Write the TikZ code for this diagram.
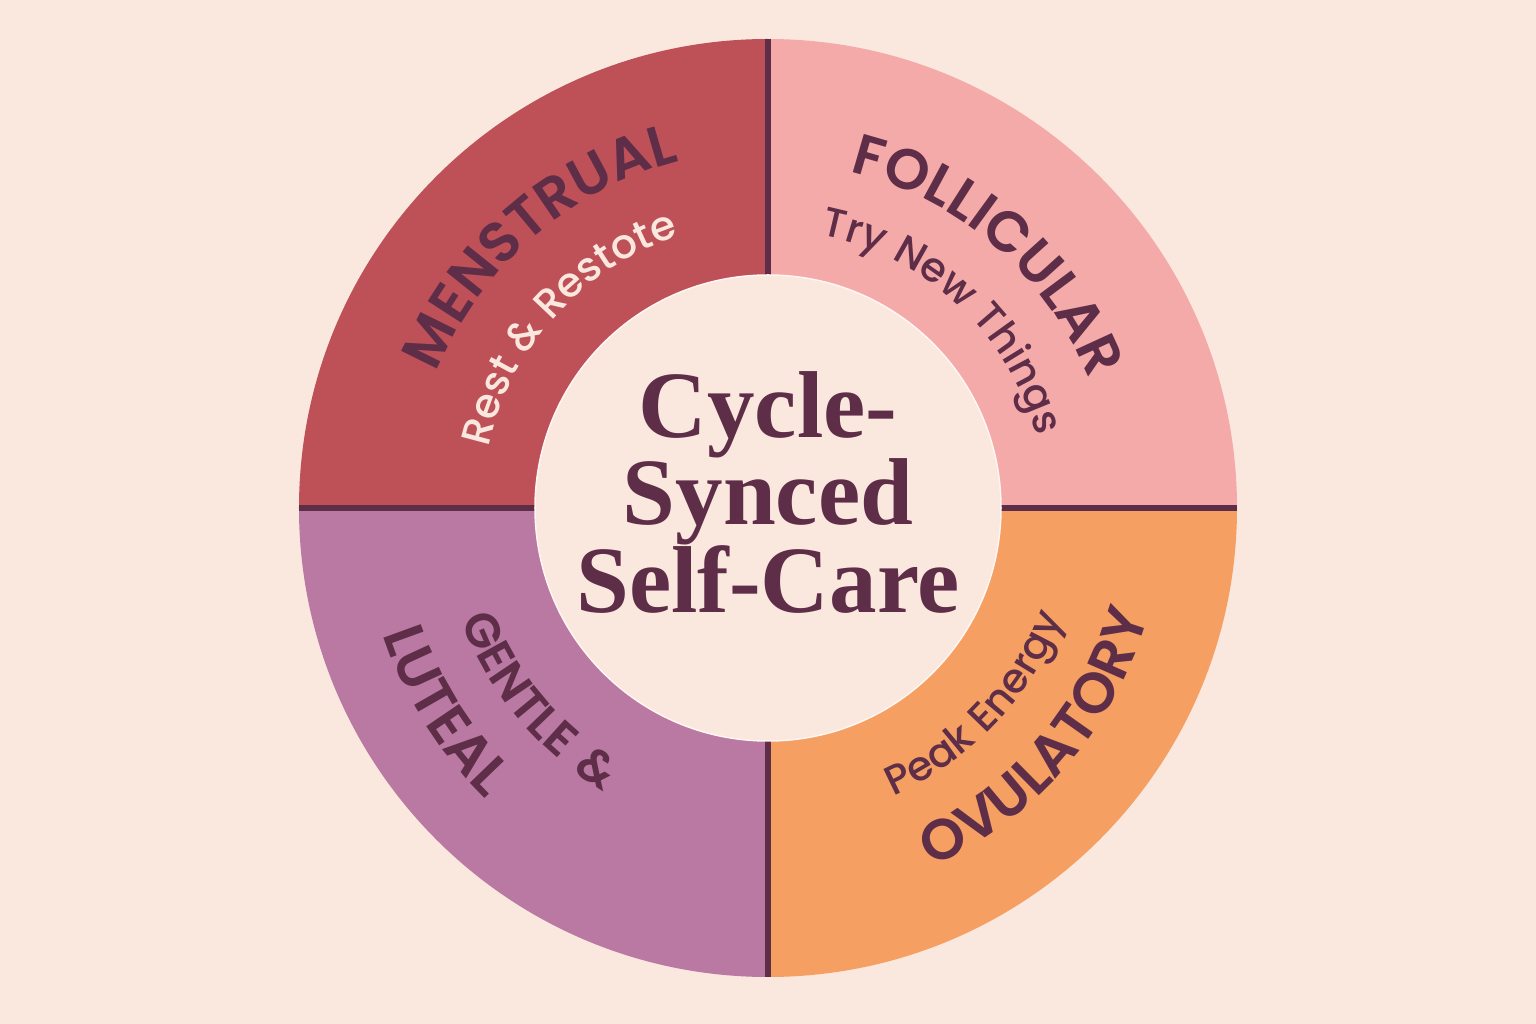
\documentclass[tikz,border=0pt]{standalone}
\usepackage{fontspec}
\setmainfont{Liberation Serif}
\newfontfamily\phasefamily[LetterSpace=13,BoldFont={* SemiBold}]{Poppins}
\newfontfamily\tagfamily[LetterSpace=2,UprightFont={* Medium}]{Poppins}
\usetikzlibrary{decorations.text}

\definecolor{paper}{HTML}{FAE8DF}
\definecolor{plum}{HTML}{5E2D48}
\definecolor{menstrualred}{HTML}{BE5058}
\definecolor{follicularpink}{HTML}{F5AAAA}
\definecolor{lutealmauve}{HTML}{B979A2}
\definecolor{ovulatoryorange}{HTML}{F5A062}
\definecolor{hubcream}{HTML}{FAE7DE}
\definecolor{rimwhite}{HTML}{FFF6F2}

\newcommand\phasename{\phasefamily\bfseries\fontsize{57}{57}\selectfont}
\newcommand\phasesmall{\phasefamily\bfseries\fontsize{48}{48}\selectfont}
\newcommand\phasetag{\tagfamily\fontsize{41}{41}\selectfont}

\tikzset{
  divider/.style={plum, line width=6.5pt},
  arclabel/.style 2 args={decorate, decoration={text along path, text align=center,
      text color=#1, text={#2}}},
  titletext/.style={plum, font=\bfseries\fontsize{95}{95}\selectfont, anchor=base, inner sep=0pt}
}

\begin{document}
\begin{tikzpicture}[x=1pt,y=1pt]
  \useasboundingbox (-768,-516) rectangle (768,508);
  \fill[paper] (-768,-516) rectangle (768,508);
  % four phases
  \foreach \col/\a in {follicularpink/0,menstrualred/90,lutealmauve/180,ovulatoryorange/270}
    \fill[\col] (0,0) -- (\a:469) arc[start angle=\a, delta angle=90, radius=469] -- cycle;
  \draw[divider] (0,469) -- (0,-469);
  \draw[divider] (-469,0) -- (469,0);
  \fill[hubcream] (0,0) circle (233);
  \draw[rimwhite, line width=1.5pt] (0,0) circle (233);
  % labels along the ring
  \path[arclabel={plum}{|\phasename|MENSTRUAL}] (171:358) arc[start angle=171, end angle=91, radius=358];
  \path[arclabel={hubcream}{|\phasetag|Rest {\&} Restote}] (178:286) arc[start angle=178, end angle=98, radius=286];
  \path[arclabel={plum}{|\phasename|FOLLICULAR}] (89:346) arc[start angle=89, end angle=9, radius=346];
  \path[arclabel={plum}{|\phasetag|Try New Things}] (87:278) arc[start angle=87, end angle=7, radius=278];
  \path[arclabel={plum}{|\phasesmall|GENTLE {\&}}] (180:327) arc[start angle=180, end angle=260, radius=327];
  \path[arclabel={plum}{|\phasename|LUTEAL}] (172:405) arc[start angle=172, end angle=252, radius=405];
  \path[arclabel={plum}{|\phasetag|Peak Energy}] (-83.5:314) arc[start angle=-83.5, end angle=-3.5, radius=314];
  \path[arclabel={plum}{|\phasename|OVULATORY}] (-80.6:395) arc[start angle=-80.6, end angle=-0.6, radius=395];
  % centre title
  \foreach \t/\y [count=\i] in {Cycle-/70,Synced/-17,Self-Care/-105}
    \node[titletext] (title\i) at (0,\y) {\t};
\end{tikzpicture}
\end{document}
